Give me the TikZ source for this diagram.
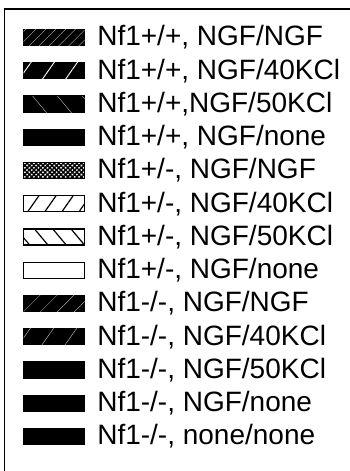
\documentclass[tikz,border=0pt]{standalone}
\usepackage{fontspec}
\setmainfont{Liberation Sans}
\usetikzlibrary{positioning, patterns.meta}

\begin{document}
\begin{tikzpicture}[x=1pt,y=-1pt,node distance=33.25pt,
	swatch/.style={draw,line width=1.2pt,minimum width=61pt,minimum height=16pt,inner sep=0pt},
	dark/.style={swatch,fill=black},
	lbl/.style={font=\fontsize{28}{32}\selectfont,inner sep=0pt,anchor=west}]
		\useasboundingbox (0,0) rectangle (349,471);
		\draw[line width=1.5pt] (4.5,9) rectangle (380,500);
		
		\node[dark,postaction={pattern={Lines[angle=45,distance=7pt,line width=0.35pt]},pattern color=gray!55}] (s1) at (54,37.5) {};
		\node[dark,postaction={pattern={Lines[angle=55,distance=19pt,line width=0.9pt]},pattern color=white}] (s2) [below of = s1] {};
		\node[dark,postaction={pattern={Lines[angle=-50,distance=19pt,line width=0.4pt]},pattern color=gray!50}] (s3) [below of = s2] {};
		\node[dark] (s4) [below of = s3] {};
		\node[swatch,fill=white,postaction={pattern={Lines[angle=45,distance=3.2pt,line width=1.5pt]},pattern color=black},postaction={pattern={Lines[angle=-45,distance=3.2pt,line width=1.5pt]},pattern color=black}] (s5) [below of = s4] {};
		\node[swatch,pattern={Lines[angle=55,distance=14pt,line width=1.2pt]}] (s6) [below of = s5] {};
		\node[swatch,pattern={Lines[angle=-50,distance=14pt,line width=1.2pt]}] (s7) [below of = s6] {};
		\node[swatch,fill=white] (s8) [below of = s7] {};
		\node[dark,postaction={pattern={Lines[angle=45,distance=12pt,line width=0.25pt]},pattern color=gray!30}] (s9) [below of = s8] {};
		\node[dark,postaction={pattern={Lines[angle=55,distance=19pt,line width=0.5pt]},pattern color=gray!60}] (s10) [below of = s9] {};
		\node[dark] (s11) [below of = s10] {};
		\node[dark] (s12) [below of = s11] {};
		\node[dark] (s13) [below of = s12] {};
		
		\node[lbl] (l1) [right=12pt of s1] {Nf1+/+, NGF/NGF};
		\node[lbl] (l2) [right=12pt of s2] {Nf1+/+, NGF/40KCl};
		\node[lbl] (l3) [right=12pt of s3] {Nf1+/+,NGF/50KCl};
		\node[lbl] (l4) [right=12pt of s4] {Nf1+/+, NGF/none};
		\node[lbl] (l5) [right=12pt of s5] {Nf1+/-, NGF/NGF};
		\node[lbl] (l6) [right=12pt of s6] {Nf1+/-, NGF/40KCl};
		\node[lbl] (l7) [right=12pt of s7] {Nf1+/-, NGF/50KCl};
		\node[lbl] (l8) [right=12pt of s8] {Nf1+/-, NGF/none};
		\node[lbl] (l9) [right=12pt of s9] {Nf1-/-, NGF/NGF};
		\node[lbl] (l10) [right=12pt of s10] {Nf1-/-, NGF/40KCl};
		\node[lbl] (l11) [right=12pt of s11] {Nf1-/-, NGF/50KCl};
		\node[lbl] (l12) [right=12pt of s12] {Nf1-/-, NGF/none};
		\node[lbl] (l13) [right=12pt of s13] {Nf1-/-, none/none};
\end{tikzpicture}
\end{document}
